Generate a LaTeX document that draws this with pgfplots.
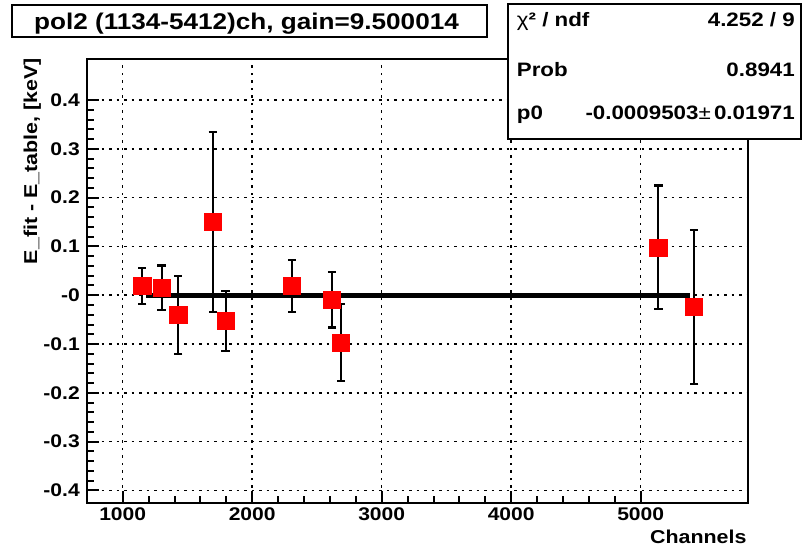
\documentclass[border=0pt]{standalone}
\usepackage{fontspec}
\setmainfont{Liberation Sans}[FakeStretch=1.15]
\usepackage{pgfplots}
\pgfplotsset{compat=1.18}
\usepackage{pgfplotstable}

% residuals of the calibration fit
\pgfplotstableread{
x     y       ey
1151  0.019   0.037
1301  0.015   0.046
1429  -0.040  0.080
1695  0.150   0.184
1795  -0.053  0.062
2307  0.019   0.054
2616  -0.009  0.057
2685  -0.097  0.079
5136  0.098   0.127
5412  -0.024  0.158
}\residuals

\newcommand{\rf}[1]{\bfseries\fontsize{#1}{#1}\selectfont}

\begin{document}
\begin{tikzpicture}[x=1bp,y=1bp]
\useasboundingbox (0,0) rectangle (802,553);
\begin{axis}[at={(86.7bp,50.3bp)}, anchor=south west, scale only axis,
  width=661.6bp, height=443.7bp,
  xmin=722, xmax=5831, ymin=-0.425, ymax=0.484,
  axis line style={line width=2bp},
  xtick={1000,2000,3000,4000,5000},
  xticklabels={1000,2000,3000,4000,5000},
  ytick={-0.4,-0.3,-0.2,-0.1,0,0.1,0.2,0.3,0.4},
  yticklabels={-0.4,-0.3,-0.2,-0.1,-0,0.1,0.2,0.3,0.4},
  minor tick num=4, tick align=inside, xtick pos=bottom, ytick pos=left,
  major tick length=12bp, minor tick length=7bp,
  tick style={black, line width=2bp},
  grid=major, grid style={black, line width=1.5bp, dash pattern=on 2.5bp off 5bp},
  tick label style={font=\rf{18.4}, inner sep=0pt},
  yticklabel style={anchor=east, xshift=-6.7bp},
  xticklabel style={anchor=north, yshift=-5.3bp},
]
\addplot[only marks, mark=square*, mark size=8.6bp,
  mark options={draw=red, fill=red, line width=0.5bp},
  error bars/.cd, y dir=both, y explicit, error mark=-,
  error bar style={draw=black, line width=2.2bp},
  error mark options={rotate=90, draw=black, line width=2.2bp, mark size=4.2bp}]
  table[x=x, y=y, y error=ey] {\residuals};
\addplot[black, line width=5.3bp] coordinates {(1178,-0.00095) (5381,-0.00095)};
\end{axis}

% axis titles
\node[rotate=90, anchor=base east, inner sep=0pt, font=\rf{18.7}] at (37,495) {E\_fit - E\_table, [keV]};
\node[anchor=base east, inner sep=0pt, font=\rf{18.7}] at (746.7,9.5) {Channels};

% title pave
\draw[line width=2.2bp, fill=white] (12,516.3) rectangle (486.7,548);
\node[anchor=base, inner sep=0pt, font=\rf{22.8}] at (246.5,523.5) {pol2 (1134-5412)ch, gain=9.500014};

% stats box
\draw[line width=2bp, fill=white] (507.7,414) rectangle (801,549);
\begin{scope}[every node/.style={inner sep=0pt, font=\rf{19.5}}]
\node[anchor=base west] at (516.7,526.3) {{\mdseries χ}² / ndf};
\node[anchor=base east] at (795,526.3) {4.252 / 9};
\node[anchor=base west] at (516.7,476.3) {Prob};
\node[anchor=base east] at (795,476.3) {0.8941};
\node[anchor=base west] at (516.7,433) {p0};
\node[anchor=base east] at (795,433) {-0.0009503{\mdseries ±}\,0.01971};
\end{scope}
\end{tikzpicture}
\end{document}
